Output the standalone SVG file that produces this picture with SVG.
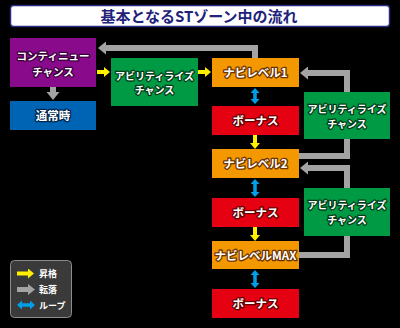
<svg xmlns="http://www.w3.org/2000/svg" width="400" height="328" viewBox="0 0 400 328">
<defs>
<style>
text{font-family:"Noto Sans CJK JP","Noto Sans",sans-serif;font-weight:700;text-anchor:middle;}
.lbl{fill:#fff;font-size:11.5px;stroke-width:2.6px;stroke-linejoin:round;paint-order:stroke;}
.sm{font-size:10px;}
.md{font-size:10.5px;}
.pur{fill:#890a8a;} .pur-t{stroke:#3a003c;}
.blu{fill:#0064b4;} .blu-t{stroke:#00264f;}
.grn{fill:#009a44;} .grn-t{stroke:#003d17;}
.org{fill:#f39800;} .org-t{stroke:#6b3300;}
.red{fill:#e50012;} .red-t{stroke:#650000;}
.gray{fill:none;stroke:#a3a3a3;stroke-width:6;}
.yel{fill:none;stroke:#fff000;stroke-width:4;}
.cya{fill:none;stroke:#00a0e9;stroke-width:3.5;}
.leg{fill:#fff;font-size:9px;text-anchor:start;}
</style>
<marker id="gh" viewBox="0 0 8 13" refX="1" refY="6.5" markerWidth="8" markerHeight="13" markerUnits="userSpaceOnUse" orient="auto"><path d="M0,0 L8,6.5 L0,13z" fill="#a3a3a3"/></marker>
<marker id="yh" viewBox="0 0 6 10" refX="1" refY="5" markerWidth="6" markerHeight="10" markerUnits="userSpaceOnUse" orient="auto"><path d="M0,0 L6,5 L0,10z" fill="#fff000"/></marker>
<marker id="ch" viewBox="0 0 5 9" refX="1" refY="4.5" markerWidth="5" markerHeight="9" markerUnits="userSpaceOnUse" orient="auto-start-reverse"><path d="M0,0 L5,4.5 L0,9z" fill="#00a0e9"/></marker>
</defs>
<rect width="400" height="328" fill="#000"/>
<g id="title">
<rect x="10.5" y="5.5" width="379" height="21" rx="3" fill="#fff" stroke="#2a2a80" stroke-width="1.5"/>
<text x="199" y="21.5" font-size="15" fill="#22227a">基本となるSTゾーン中の流れ</text>
</g>
<g id="connectors">
<path class="gray" d="M255,58 V48 H105" marker-end="url(#gh)"/>
<path class="gray" d="M53,87 V93" marker-end="url(#gh)"/>
<path class="gray" d="M347,92 V73 H307" marker-end="url(#gh)"/>
<path class="gray" d="M347,139 V156 H299"/>
<path class="gray" d="M347,188 V168 H307" marker-end="url(#gh)"/>
<path class="gray" d="M347,236 V255 H299"/>
<path class="yel" d="M97,72 H105" marker-end="url(#yh)"/>
<path class="yel" d="M198,72 H206" marker-end="url(#yh)"/>
<path class="yel" d="M255,135 V144" marker-end="url(#yh)"/>
<path class="yel" d="M255,227 V236" marker-end="url(#yh)"/>
<path class="cya" d="M255,92 V100" marker-start="url(#ch)" marker-end="url(#ch)"/>
<path class="cya" d="M255,183 V193" marker-start="url(#ch)" marker-end="url(#ch)"/>
<path class="cya" d="M255,274 V284" marker-start="url(#ch)" marker-end="url(#ch)"/>
</g>
<g id="continue">
<rect class="pur" x="10" y="38" width="86" height="49"/>
<text class="lbl md pur-t" x="53" y="60">コンティニュー</text>
<text class="lbl md pur-t" x="53" y="75.5">チャンス</text>
</g>
<g id="normal">
<rect class="blu" x="10" y="101" width="86" height="29"/>
<text class="lbl blu-t" x="53" y="120">通常時</text>
</g>
<g id="ability1">
<rect class="grn" x="111" y="58" width="87" height="48"/>
<text class="lbl sm grn-t" x="154.5" y="79.5">アビリティライズ</text>
<text class="lbl sm grn-t" x="154.5" y="94">チャンス</text>
</g>
<g id="navi1">
<rect class="org" x="212" y="58" width="87" height="29"/>
<text class="lbl org-t" x="255.5" y="77">ナビレベル1</text>
</g>
<g id="bonus1">
<rect class="red" x="212" y="106" width="87" height="29"/>
<text class="lbl red-t" x="255.5" y="125">ボーナス</text>
</g>
<g id="ability2">
<rect class="grn" x="304" y="92" width="86" height="47"/>
<text class="lbl sm grn-t" x="347" y="113">アビリティライズ</text>
<text class="lbl sm grn-t" x="347" y="127.5">チャンス</text>
</g>
<g id="navi2">
<rect class="org" x="212" y="149" width="87" height="29"/>
<text class="lbl org-t" x="255.5" y="168">ナビレベル2</text>
</g>
<g id="bonus2">
<rect class="red" x="212" y="198" width="87" height="29"/>
<text class="lbl red-t" x="255.5" y="217">ボーナス</text>
</g>
<g id="ability3">
<rect class="grn" x="304" y="188" width="86" height="48"/>
<text class="lbl sm grn-t" x="347" y="209">アビリティライズ</text>
<text class="lbl sm grn-t" x="347" y="223.5">チャンス</text>
</g>
<g id="navimax">
<rect class="org" x="212" y="241" width="87" height="28"/>
<text class="lbl org-t" x="255.5" y="259.5">ナビレベルMAX</text>
</g>
<g id="bonus3">
<rect class="red" x="212" y="289" width="87" height="29"/>
<text class="lbl red-t" x="255.5" y="308">ボーナス</text>
</g>
<g id="legend">
<rect x="10.5" y="260.5" width="61" height="57" rx="4" fill="#3a3a3a" stroke="#8c8c8c" stroke-width="1"/>
<path class="yel" d="M17,273.5 H29" marker-end="url(#yh)"/>
<path d="M17,289.5 H28" fill="none" stroke="#a3a3a3" stroke-width="5"/>
<path d="M28,284 L35,289.5 L28,295z" fill="#a3a3a3"/>
<path class="cya" d="M21,305 H31" marker-start="url(#ch)" marker-end="url(#ch)"/>
<text class="leg" x="39" y="277">昇格</text>
<text class="leg" x="39" y="293">転落</text>
<text class="leg" x="39" y="308.5">ループ</text>
</g>
</svg>
